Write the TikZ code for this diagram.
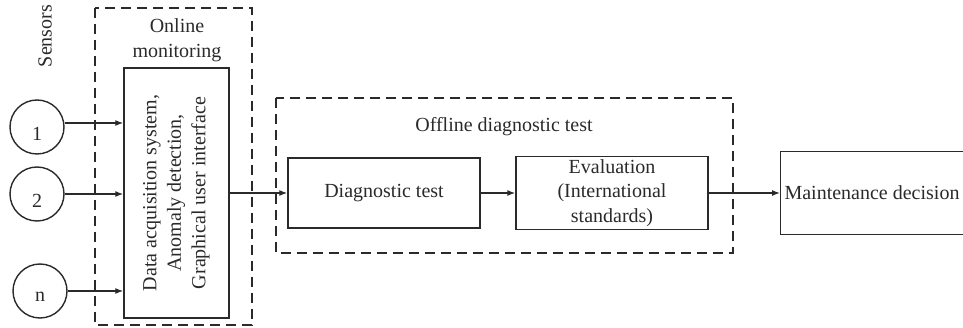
\documentclass[tikz,border=0pt]{standalone}
\usepackage{fontspec}
\setmainfont{Liberation Serif}
\usetikzlibrary{arrows.meta}
\definecolor{ink}{HTML}{2A2A2A}
\begin{document}
\begin{tikzpicture}[x=1pt,y=-1pt,
  font=\fontsize{20}{24.5}\selectfont,
  every node/.style={text=ink},
  boxline/.style={draw=ink,line width=1.4pt},
  dashbox/.style={draw=ink,line width=1.4pt,dash pattern=on 10pt off 6pt},
  sensor/.style={boxline,circle,minimum size=54pt,inner sep=0pt},
  arr/.style={draw=ink,line width=1.3pt,-{Latex[length=8pt,width=6pt]}},
  plain/.style={draw=ink,line width=1.3pt}
]
\useasboundingbox (0,0) rectangle (963,328);
% dashed groups
\draw[dashbox] (95,8) rectangle (252,325);
\draw[dashbox] (276,98) rectangle (733,253);
% labels
\node[rotate=90] (sens) at (45,36) {Sensors};
\node[align=center] (onl) at (177,40) {Online\\monitoring};
\node (offl) at (504,127) {Offline diagnostic test};
% main boxes
\node[boxline,minimum width=105pt,minimum height=250pt,inner sep=0pt] (dab) at (176.5,193) {};
\node[rotate=90,align=center] (dabt) at (dab.center) {Data acquisition system,\\Anomaly detection,\\Graphical user interface};
\node[boxline,minimum width=192pt,minimum height=70pt,inner sep=0pt] (diag) at (384,193) {Diagnostic test};
\node[boxline,minimum width=192pt,minimum height=73pt,inner sep=0pt,align=center] (eval) at (612,193) {Evaluation\\(International\\standards)};
\node[boxline,minimum width=210pt,minimum height=83pt,inner sep=0pt,anchor=west] (maint) at (780,193) {};
\node[anchor=west] (maintt) at (781,193) {Maintenance decision};
% sensors
\node[sensor] (s1) at (37,127) {};
\node (s1t) at (37,134) {1};
\node[sensor] (s2) at (37,194) {};
\node (s2t) at (37,201) {2};
\node[sensor] (sn) at (40,291) {};
\node (snt) at (40,297) {n};
% connectors
\draw[arr] (s1.east |- 0,123) -- (dab.west |- 0,123);
\draw[arr] (s2.east) -- (dab.west |- s2.east);
\draw[arr] (sn.east) -- (dab.west |- sn.east);
\draw[arr] (dab.east |- diag.west) -- (diag.west);
\draw[arr] (diag.east) -- (eval.west);
\draw[arr] (eval.east) -- (maint.west);
\end{tikzpicture}
\end{document}
